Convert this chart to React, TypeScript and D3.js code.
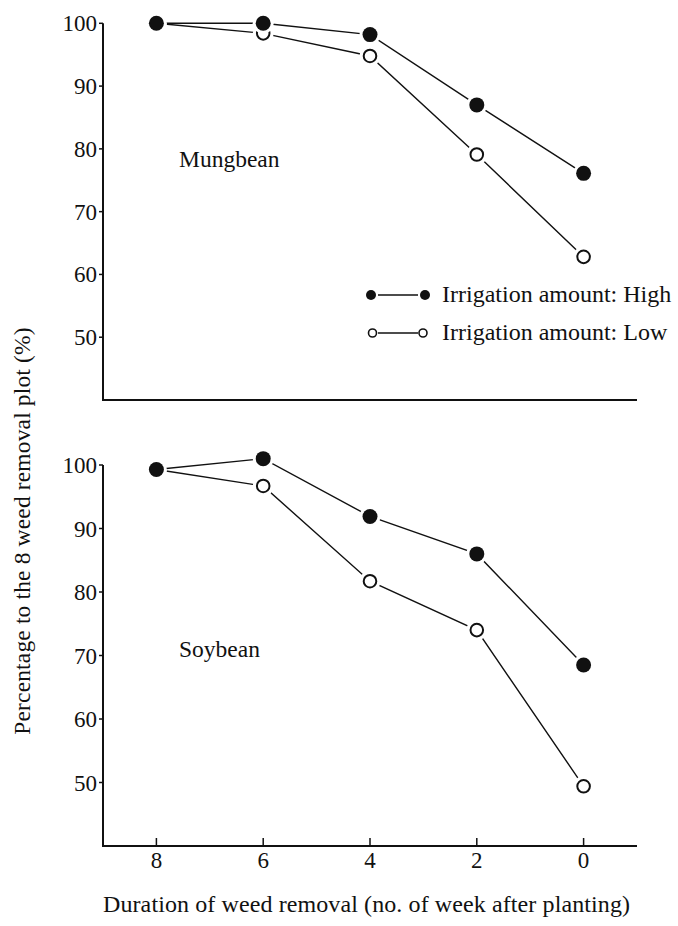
import React from "react";
import * as d3 from "d3";

const weeks = [8, 6, 4, 2, 0];
const mungHigh = [100, 100, 98.2, 87.0, 76.1];
const mungLow = [100, 98.4, 94.8, 79.1, 62.8];
const soyHigh = [99.3, 101.0, 91.9, 86.0, 68.5];
const soyLow = [99.3, 96.7, 81.7, 74.0, 49.4];
const yTicks = [100, 90, 80, 70, 60, 50];
const xTicks = [8, 6, 4, 2, 0];
const legendLabels = ["Irrigation amount: High", "Irrigation amount: Low"];

const FONT = "'Liberation Serif', 'DejaVu Serif', 'Times New Roman', serif";
const INK = "#111";

const x = d3.scaleLinear().domain([9, -1]).range([103, 637]);

function Series({ values, y, filled }: { values: number[]; y: d3.ScaleLinear<number, number>; filled: boolean }) {
  const line = d3
    .line<number>()
    .x((_, i) => x(weeks[i]))
    .y((v) => y(v));
  return (
    <g>
      <path d={line(values) || ""} fill="none" stroke={INK} strokeWidth={1.4} />
      {values.map((v, i) => (
        <circle key={"h" + i} cx={x(weeks[i])} cy={y(v)} r={10.5} fill="#fff" />
      ))}
      {values.map((v, i) =>
        filled ? (
          <circle key={i} cx={x(weeks[i])} cy={y(v)} r={7.5} fill={INK} />
        ) : (
          <circle key={i} cx={x(weeks[i])} cy={y(v)} r={6.3} fill="#fff" stroke={INK} strokeWidth={2} />
        )
      )}
    </g>
  );
}

function Panel({
  y,
  high,
  low,
  label,
  labelY,
  showXTicks,
}: {
  y: d3.ScaleLinear<number, number>;
  high: number[];
  low: number[];
  label: string;
  labelY: number;
  showXTicks: boolean;
}) {
  const [yBottom, yTop] = y.range();
  return (
    <g>
      <line x1={x(9)} x2={x(9)} y1={yTop} y2={yBottom} stroke={INK} strokeWidth={2} />
      <line x1={x(9) - 1} x2={x(-1)} y1={yBottom} y2={yBottom} stroke={INK} strokeWidth={2} />
      {yTicks.map((t) => (
        <g key={t}>
          <line x1={x(9) - 4} x2={x(9)} y1={y(t)} y2={y(t)} stroke={INK} strokeWidth={1.5} />
          <text x={x(9) - 6} y={y(t) + 8} textAnchor="end" fontSize={23} fontFamily={FONT} fill={INK}>
            {t}
          </text>
        </g>
      ))}
      {showXTicks &&
        xTicks.map((t) => (
          <g key={t}>
            <line x1={x(t)} x2={x(t)} y1={yBottom} y2={yBottom - 8} stroke={INK} strokeWidth={1.5} />
            <text x={x(t)} y={yBottom + 22} textAnchor="middle" fontSize={23} fontFamily={FONT} fill={INK}>
              {t}
            </text>
          </g>
        ))}
      <text x={179} y={labelY} fontSize={23.5} fontFamily={FONT} fill={INK}>
        {label}
      </text>
      <Series values={low} y={y} filled={false} />
      <Series values={high} y={y} filled={true} />
    </g>
  );
}

export default function App() {
  const yTop = d3.scaleLinear().domain([40, 100]).range([400, 23.3]);
  const yBot = d3.scaleLinear().domain([40, 100]).range([846, 465]);
  const legendRows = [295, 333];
  return (
    <svg
      width={678}
      height={926}
      viewBox="0 0 678 926"
      style={{ position: "absolute", left: 0, top: 0, background: "#fff" }}
    >
      <rect width={678} height={926} fill="#fff" />
      <Panel y={yTop} high={mungHigh} low={mungLow} label="Mungbean" labelY={167} showXTicks={false} />
      <Panel y={yBot} high={soyHigh} low={soyLow} label="Soybean" labelY={657} showXTicks={true} />
      {legendLabels.map((lab, i) => {
        const cy = legendRows[i];
        const filled = i === 0;
        return (
          <g key={lab}>
            <line x1={378} x2={418} y1={cy} y2={cy} stroke={INK} strokeWidth={1.4} />
            {filled ? (
              <>
                <circle cx={371} cy={cy} r={5} fill={INK} />
                <circle cx={425} cy={cy} r={5} fill={INK} />
              </>
            ) : (
              <>
                <circle cx={372.5} cy={cy} r={4} fill="#fff" stroke={INK} strokeWidth={1.6} />
                <circle cx={423} cy={cy} r={4} fill="#fff" stroke={INK} strokeWidth={1.6} />
              </>
            )}
            <text x={442} y={cy + 7} fontSize={24} fontFamily={FONT} fill={INK}>
              {lab}
            </text>
          </g>
        );
      })}
      <text
        transform="translate(30,531) rotate(-90)"
        textAnchor="middle"
        fontSize={23.5}
        letterSpacing={0.15}
        fontFamily={FONT}
        fill={INK}
      >
        Percentage to the 8 weed removal plot (%)
      </text>
      <text x={103} y={912} fontSize={24} letterSpacing={0.1} fontFamily={FONT} fill={INK}>
        Duration of weed removal (no. of week after planting)
      </text>
    </svg>
  );
}
